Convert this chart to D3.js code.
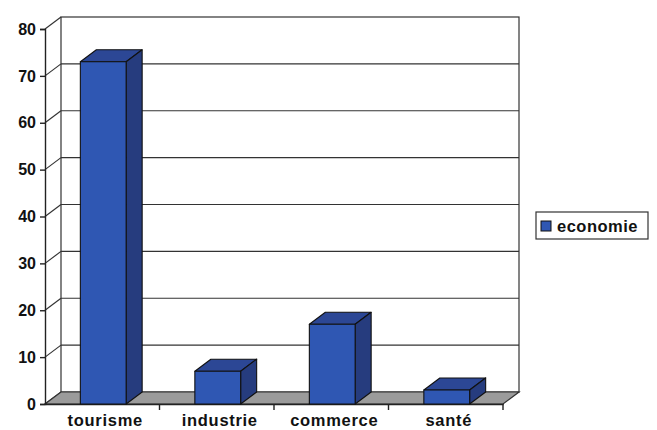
<!DOCTYPE html>
<html>
<head>
<meta charset="utf-8">
<script src="https://cdn.jsdelivr.net/npm/d3@7"></script>
<style>
  body { margin: 0; background: #fff; }
  text { font-family: "Liberation Sans", Arial, sans-serif; font-weight: bold; fill: #111; }
</style>
</head>
<body>
<script>
// data
const categories = ['tourisme', 'industrie', 'commerce', 'santé'];
const economie = [73, 7, 17, 3];
const yTicks = [0, 10, 20, 30, 40, 50, 60, 70, 80];
const seriesName = 'economie';

const width = 657, height = 430;
const plotLeft = 45, plotRight = 503, plotBottom = 404, plotTop = 29;
const dx = 16, dy = -12; // depth offset

const x = d3.scaleBand().domain(categories).range([plotLeft, plotRight]).padding(0);
const y = d3.scaleLinear().domain([0, 80]).range([plotBottom, plotTop]);

const svg = d3.select('body').append('svg')
    .attr('width', width)
    .attr('height', height);

// back wall
const wall = svg.append('g').attr('stroke', '#333').attr('stroke-width', 1.2).attr('fill', 'none');
wall.append('rect')
    .attr('x', plotLeft + dx).attr('y', plotTop + dy)
    .attr('width', plotRight - plotLeft).attr('height', plotBottom - plotTop)
    .attr('fill', '#fff');

// gridlines on back wall + diagonals from front axis
wall.selectAll('.grid').data(yTicks.slice(1, -1)).enter().append('line')
    .attr('x1', plotLeft + dx).attr('x2', plotRight + dx)
    .attr('y1', d => y(d) + dy).attr('y2', d => y(d) + dy);
wall.selectAll('.diag').data(yTicks).enter().append('line')
    .attr('x1', plotLeft).attr('x2', plotLeft + dx)
    .attr('y1', d => y(d)).attr('y2', d => y(d) + dy);

// floor
svg.append('path')
    .attr('d', `M${plotLeft},${plotBottom}L${plotRight},${plotBottom}L${plotRight + dx},${plotBottom + dy}L${plotLeft + dx},${plotBottom + dy}Z`)
    .attr('fill', '#9b9b9b')
    .attr('stroke', '#333')
    .attr('stroke-width', 1.2);

// y axis
const yAxis = svg.append('g').attr('transform', `translate(${plotLeft},0)`)
    .call(d3.axisLeft(y).tickValues(yTicks).tickSize(5).tickPadding(4));
yAxis.select('.domain').attr('stroke', '#222').attr('stroke-width', 1.4);
yAxis.selectAll('.tick line').attr('stroke', '#222').attr('stroke-width', 1.4);
yAxis.selectAll('.tick text').style('font-size', '16px').attr('fill', '#111');

// x axis
const xAxis = svg.append('g').attr('transform', `translate(0,${plotBottom})`)
    .call(d3.axisBottom(x).tickSize(0).tickPadding(10));
xAxis.select('.domain').attr('stroke', '#222').attr('stroke-width', 1.4);
xAxis.selectAll('.tick text')
    .style('font-size', '16.5px')
    .style('letter-spacing', '0.7px')
    .attr('fill', '#111').attr('dx', 3);
xAxis.selectAll('.sep').data(categories).enter().append('line')
    .attr('x1', d => x(d) + x.bandwidth()).attr('x2', d => x(d) + x.bandwidth())
    .attr('y1', 0).attr('y2', 6)
    .attr('stroke', '#222').attr('stroke-width', 1.4);

// bars
const bw = x.bandwidth() * 0.4;
const bars = svg.selectAll('.bar').data(categories.map((c, i) => ({ c, v: economie[i] })))
    .enter().append('g').attr('class', 'bar')
    .attr('stroke', '#111').attr('stroke-width', 1.1).attr('stroke-linejoin', 'round');

bars.append('path') // top
    .attr('fill', '#2c4795')
    .attr('d', d => {
        const x0 = x(d.c) + x.bandwidth() * 0.3 + 1, yt = y(d.v);
        return `M${x0},${yt}L${x0 + bw},${yt}L${x0 + bw + dx},${yt + dy}L${x0 + dx},${yt + dy}Z`;
    });
bars.append('path') // side
    .attr('fill', '#263c7e')
    .attr('d', d => {
        const x1 = x(d.c) + x.bandwidth() * 0.3 + 1 + bw, yt = y(d.v);
        return `M${x1},${yt}L${x1 + dx},${yt + dy}L${x1 + dx},${plotBottom + dy}L${x1},${plotBottom}Z`;
    });
bars.append('rect') // front
    .attr('fill', '#2f57b3')
    .attr('x', d => x(d.c) + x.bandwidth() * 0.3 + 1)
    .attr('y', d => y(d.v))
    .attr('width', bw)
    .attr('height', d => plotBottom - y(d.v));

// legend
const legend = svg.append('g').attr('transform', 'translate(536,212)');
legend.append('rect')
    .attr('width', 112).attr('height', 27)
    .attr('fill', '#fff').attr('stroke', '#333').attr('stroke-width', 1.2);
legend.append('rect')
    .attr('x', 5).attr('y', 9).attr('width', 10).attr('height', 10)
    .attr('fill', '#2f57b3').attr('stroke', '#111').attr('stroke-width', 1);
legend.append('text')
    .attr('x', 21).attr('y', 20)
    .style('font-size', '16.5px')
    .style('letter-spacing', '0.5px')
    .text(seriesName);
</script>
</body>
</html>
